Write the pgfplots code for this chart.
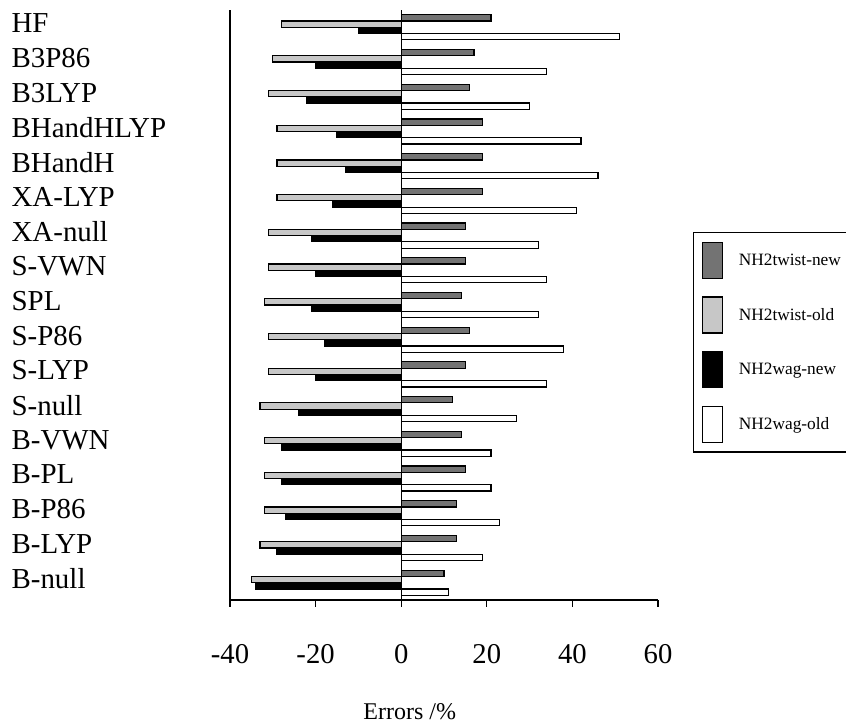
\documentclass[border=0pt]{standalone}
\usepackage{pgfplots}
\usepackage{pgfplotstable}
\usepackage{fontspec}
\setmainfont{Liberation Serif}
\pgfplotsset{compat=1.18}

% y: 0 = B-null (bottom) ... 16 = HF (top)
\pgfplotstableread{
y  tn  to   wn   wo
16 21 -28  -10  51
15 17 -30  -20  34
14 16 -31  -22  30
13 19 -29  -15  42
12 19 -29  -13  46
11 19 -29  -16  41
10 15 -31  -21  32
9  15 -31  -20  34
8  14 -32  -21  32
7  16 -31  -18  38
6  15 -31  -20  34
5  12 -33  -24  27
4  14 -32  -28  21
3  15 -32  -28  21
2  13 -32  -27  23
1  13 -33  -29  19
0  10 -35  -34  11
}\errtab

\definecolor{twnew}{gray}{0.45}
\definecolor{twold}{gray}{0.78}

\begin{document}
\begin{tikzpicture}
\begin{axis}[
    at={(0,0)}, anchor=south west,
    scale only axis,
    width=321pt, height=442.5pt,
    xmin=-40, xmax=60,
    ymin=-0.5, ymax=16.5,
    xbar, bar width=4.7pt,
    axis x line=bottom, axis y line=left,
    axis line style={-, line width=1pt},
    xtick={-40,-20,0,20,40,60},
    xticklabels={-40,-20,0,20,40,60},
    tick align=outside,
    major tick length=5pt,
    x tick style={line width=1pt, black},
    xticklabel style={font=\fontsize{21.5}{24}\selectfont, yshift=-25pt},
    ytick={0,...,16},
    yticklabels={B-null,B-LYP,B-P86,B-PL,B-VWN,S-null,S-LYP,S-P86,SPL,S-VWN,XA-null,XA-LYP,BHandH,BHandHLYP,B3LYP,B3P86,HF},
    y tick style={draw=none},
    yticklabel style={font=\fontsize{21.7}{24}\selectfont, anchor=west, inner sep=0pt, xshift=-159pt, yshift=3pt},
    clip=false,
    legend style={
        at={(rel axis cs:1.082,0.6237)}, anchor=north west,
        draw=black, line width=0.9pt, fill=white,
        inner xsep=6pt, inner ysep=7pt,
        row sep=13pt, column sep=10pt,
        font=\fontsize{13}{15}\selectfont,
        cells={anchor=west},
    },
    legend image code/.code={\draw[#1, line width=0.9pt] (0pt,-13.5pt) rectangle (15pt,13.5pt);},
]
\addplot[draw=black, line width=0.9pt, fill=twnew, bar shift=7.05pt] table[x=tn, y=y] {\errtab};
\addlegendentry{NH2twist-new}
\addplot[draw=black, line width=0.9pt, fill=twold, bar shift=2.35pt] table[x=to, y=y] {\errtab};
\addlegendentry{NH2twist-old}
\addplot[draw=black, line width=0.9pt, fill=black, bar shift=-2.35pt] table[x=wn, y=y] {\errtab};
\addlegendentry{NH2wag-new}
\addplot[draw=black, line width=0.9pt, fill=white, bar shift=-7.05pt] table[x=wo, y=y] {\errtab};
\addlegendentry{NH2wag-old}

\draw[line width=1pt] (axis cs:0,-0.5) -- (axis cs:0,16.5);
\node[font=\fontsize{18}{21}\selectfont] at ([yshift=-84pt]rel axis cs:0.42,0) {Errors /\%};
\end{axis}
\pgfresetboundingbox
\path[use as bounding box] (-172.5pt,-93pt) rectangle (462pt,450pt);
\end{tikzpicture}
\end{document}
